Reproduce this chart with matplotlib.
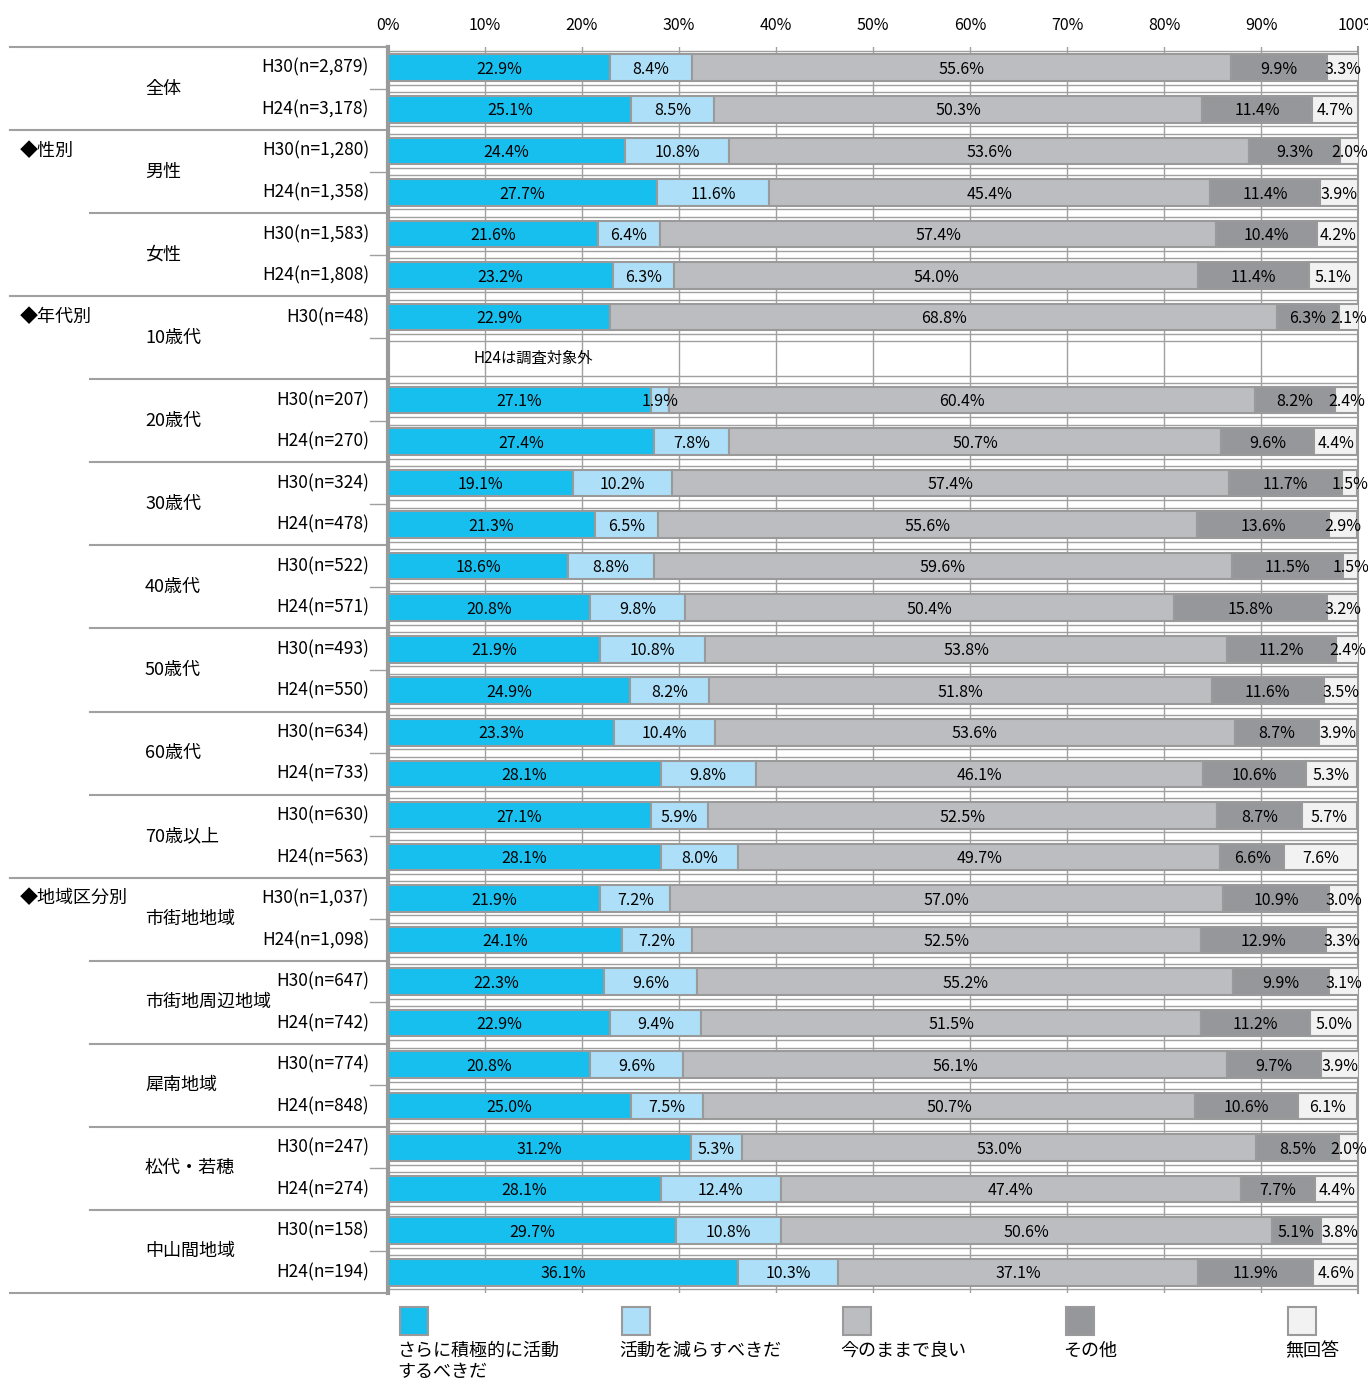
import numpy as np
import matplotlib.pyplot as plt
from matplotlib.patches import Rectangle
from matplotlib.transforms import blended_transform_factory

plt.rcParams['font.family'] = ['Liberation Sans Narrow', 'Noto Sans CJK JP', 'DejaVu Sans']

# categories / legend
categories = ['さらに積極的に活動\nするべきだ', '活動を減らすべきだ', '今のままで良い', 'その他', '無回答']
colors = ['#17BFEF', '#ADE0F8', '#BCBDC1', '#96979B', '#F2F2F2']

# row labels (top to bottom)
year_labels = ['H30(n=2,879)', 'H24(n=3,178)',
               'H30(n=1,280)', 'H24(n=1,358)',
               'H30(n=1,583)', 'H24(n=1,808)',
               'H30(n=48)', '',
               'H30(n=207)', 'H24(n=270)',
               'H30(n=324)', 'H24(n=478)',
               'H30(n=522)', 'H24(n=571)',
               'H30(n=493)', 'H24(n=550)',
               'H30(n=634)', 'H24(n=733)',
               'H30(n=630)', 'H24(n=563)',
               'H30(n=1,037)', 'H24(n=1,098)',
               'H30(n=647)', 'H24(n=742)',
               'H30(n=774)', 'H24(n=848)',
               'H30(n=247)', 'H24(n=274)',
               'H30(n=158)', 'H24(n=194)']

group_labels = ['全体', '男性', '女性', '10歳代', '20歳代', '30歳代', '40歳代', '50歳代',
                '60歳代', '70歳以上', '市街地地域', '市街地周辺地域', '犀南地域', '松代・若穂', '中山間地域']
section_labels = {'◆性別': 2, '◆年代別': 6, '◆地域区分別': 20}

# values per series (%), None = no data
more_active = [22.9, 25.1, 24.4, 27.7, 21.6, 23.2, 22.9, None, 27.1, 27.4, 19.1, 21.3, 18.6, 20.8,
               21.9, 24.9, 23.3, 28.1, 27.1, 28.1, 21.9, 24.1, 22.3, 22.9, 20.8, 25.0, 31.2, 28.1, 29.7, 36.1]
less_active = [8.4, 8.5, 10.8, 11.6, 6.4, 6.3, 0.0, None, 1.9, 7.8, 10.2, 6.5, 8.8, 9.8,
               10.8, 8.2, 10.4, 9.8, 5.9, 8.0, 7.2, 7.2, 9.6, 9.4, 9.6, 7.5, 5.3, 12.4, 10.8, 10.3]
as_is = [55.6, 50.3, 53.6, 45.4, 57.4, 54.0, 68.8, None, 60.4, 50.7, 57.4, 55.6, 59.6, 50.4,
         53.8, 51.8, 53.6, 46.1, 52.5, 49.7, 57.0, 52.5, 55.2, 51.5, 56.1, 50.7, 53.0, 47.4, 50.6, 37.1]
other = [9.9, 11.4, 9.3, 11.4, 10.4, 11.4, 6.3, None, 8.2, 9.6, 11.7, 13.6, 11.5, 15.8,
         11.2, 11.6, 8.7, 10.6, 8.7, 6.6, 10.9, 12.9, 9.9, 11.2, 9.7, 10.6, 8.5, 7.7, 5.1, 11.9]
no_answer = [3.3, 4.7, 2.0, 3.9, 4.2, 5.1, 2.1, None, 2.4, 4.4, 1.5, 2.9, 1.5, 3.2,
             2.4, 3.5, 3.9, 5.3, 5.7, 7.6, 3.0, 3.3, 3.1, 5.0, 3.9, 6.1, 2.0, 4.4, 3.8, 4.6]

series = [more_active, less_active, as_is, other, no_answer]

fig = plt.figure(figsize=(13.68, 13.83), dpi=100)
L, R, T, B = 388 / 1368, 1358 / 1368, 1 - 47 / 1383, 1 - 1293 / 1383
ax = fig.add_axes([L, B, R - L, T - B])

n_rows = len(year_labels)
y = np.arange(n_rows)
left = np.zeros(n_rows)
for vals, col in zip(series, colors):
    v = np.array([np.nan if x is None else x for x in vals])
    w = np.nan_to_num(v)
    ax.barh(y, w, left=left, height=0.64, color=col, edgecolor='#9a9a9a',
            linewidth=1.5, zorder=3)
    for i, val in enumerate(v):
        if np.isnan(val) or val == 0:
            continue
        ax.text(left[i] + w[i] / 2, y[i] + 0.04, f'{val:.1f}%', ha='center', va='center',
                fontsize=11.5, zorder=5, clip_on=False)
    left += w

ax.text(15, 7, 'H24は調査対象外', ha='center', va='center', fontsize=11)

ax.set_xlim(0, 100)
ax.set_ylim(n_rows - 0.5, -0.5)
ax.set_xticks(np.arange(0, 101, 10))
ax.set_xticklabels([f'{t}%' for t in range(0, 101, 10)], fontsize=11.5)
ax.xaxis.tick_top()
ax.tick_params(axis='x', length=0, pad=9)
ax.set_yticks([])
ax.grid(axis='x', color='#a0a0a0', linewidth=1, zorder=0)
for s in ['top', 'bottom']:
    ax.spines[s].set_visible(False)
for s in ['left', 'right']:
    ax.spines[s].set_color('#9a9a9a')
ax.spines['left'].set_linewidth(3)
ax.spines['right'].set_linewidth(1.5)

# double rules in the gaps between bars
for k in range(n_rows + 1):
    yb = k - 0.5
    for off in (-0.09, 0.09):
        yy = yb + off
        if -0.5 <= yy <= n_rows - 0.5:
            ax.axhline(yy, color='#a0a0a0', linewidth=1, zorder=1)

# separator lines on the label side
tr = blended_transform_factory(fig.transFigure, ax.transData)
major = {-0.5, 1.5, 5.5, 19.5, 29.5}
for g in range(len(group_labels) + 1):
    yb = 2 * g - 0.5
    x0 = 10 / 1368 if yb in major else 90 / 1368
    ax.plot([x0, L], [yb, yb], transform=tr, color='#a0a0a0', linewidth=1.5, clip_on=False)
for g in range(len(group_labels)):
    yb = 2 * g + 0.5
    ax.plot([370 / 1368, L], [yb, yb], transform=tr, color='#a0a0a0', linewidth=1, clip_on=False)

for i, lab in enumerate(year_labels):
    if lab:
        ax.text(369 / 1368, i, lab, transform=tr, ha='right', va='center', fontsize=12.5)
for g, lab in enumerate(group_labels):
    ax.text(145 / 1368, 2 * g + 0.5, lab, transform=tr, ha='left', va='center', fontsize=13)
for lab, row in section_labels.items():
    ax.text(20 / 1368, row, lab, transform=tr, ha='left', va='center', fontsize=13)

# legend
leg_x = [400, 622, 843, 1066, 1288]
for xp, col, lab in zip(leg_x, colors, categories):
    fig.add_artist(Rectangle((xp / 1368, 1 - 1335 / 1383), 28 / 1368, 28 / 1383,
                             transform=fig.transFigure, facecolor=col,
                             edgecolor='#9a9a9a', linewidth=1.5))
    fig.text((xp - 3) / 1368, 1 - 1342 / 1383, lab, ha='left', va='top',
             fontsize=13, linespacing=1.25)

fig.savefig('out.png', dpi=100)
